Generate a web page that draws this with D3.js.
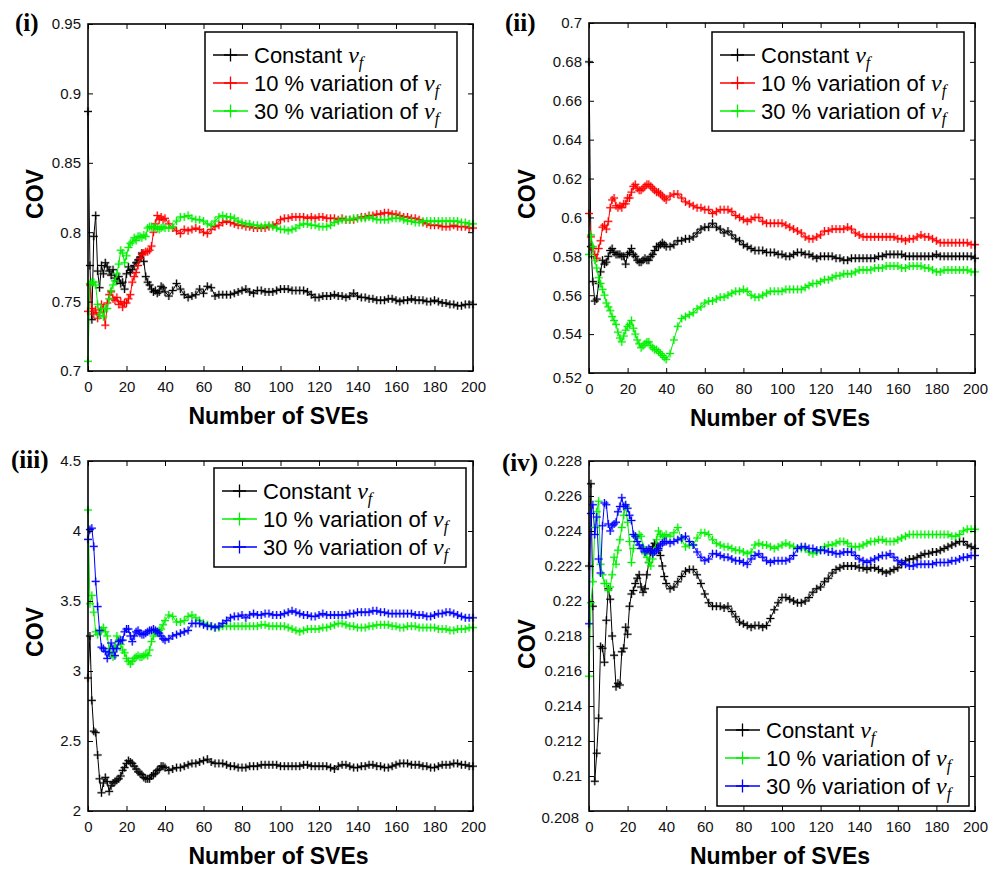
<!DOCTYPE html>
<html>
<head>
<meta charset="utf-8">
<script src="https://cdn.jsdelivr.net/npm/d3@7"></script>
<style>
  body { margin: 0; background: #fff; }
  svg { display: block; }
  text { white-space: pre; }
</style>
</head>
<body>
<svg id="fig" width="1008" height="870"></svg>
<script>
// Number of SVEs at which the running COV is sampled
const sves = [0,1,2,3,4,5,6,7,8,9,
  10,11,12,13,14,15,16,17,18,19,
  20,21,22,23,24,25,26,27,28,29,
  30,31,32,33,34,35,36,37,38,39,40,
  42,44,46,48,50,52,54,56,58,60,
  62,64,66,68,70,72,74,76,78,80,
  82,84,86,88,90,92,94,96,98,100,
  102,104,106,108,110,112,114,116,118,120,
  122,124,126,128,130,132,134,136,138,140,
  142,144,146,148,150,152,154,156,158,160,
  162,164,166,168,170,172,174,176,178,180,
  182,184,186,188,190,192,194,196,198,200];

// ---- Panel (i) ----
const covI_const = [0.887,0.776,0.737,0.797,0.812,0.772,0.760,0.776,0.770,0.778,
  0.775,0.772,0.769,0.773,0.767,0.765,0.768,0.763,0.764,0.759,
  0.770,0.775,0.771,0.773,0.776,0.778,0.780,0.782,0.785,0.779,
  0.768,0.764,0.762,0.759,0.757,0.758,0.756,0.757,0.761,0.760,0.757,
  0.754,0.758,0.763,0.759,0.755,0.753,0.754,0.755,0.759,0.756,
  0.761,0.760,0.754,0.755,0.755,0.755,0.755,0.756,0.757,0.758,
  0.759,0.757,0.756,0.758,0.758,0.757,0.757,0.757,0.758,0.759,
  0.759,0.759,0.758,0.758,0.758,0.758,0.757,0.755,0.753,0.753,
  0.754,0.754,0.754,0.755,0.754,0.754,0.753,0.754,0.756,0.754,
  0.753,0.753,0.752,0.752,0.751,0.751,0.751,0.752,0.752,0.751,
  0.750,0.751,0.751,0.752,0.751,0.751,0.751,0.750,0.750,0.751,
  0.750,0.749,0.749,0.748,0.748,0.747,0.747,0.748,0.748,0.748];
const covI_var10 = [0.743,0.762,0.745,0.741,0.744,0.738,0.742,0.748,0.745,0.733,
  0.749,0.755,0.757,0.752,0.751,0.753,0.748,0.750,0.746,0.749,
  0.749,0.752,0.755,0.764,0.768,0.771,0.776,0.781,0.784,0.785,
  0.786,0.786,0.787,0.790,0.800,0.806,0.812,0.809,0.811,0.809,0.810,
  0.806,0.803,0.801,0.799,0.802,0.801,0.802,0.803,0.802,0.800,
  0.799,0.802,0.804,0.805,0.807,0.808,0.807,0.806,0.805,0.805,
  0.804,0.804,0.803,0.803,0.803,0.803,0.804,0.805,0.806,0.809,
  0.810,0.810,0.811,0.811,0.811,0.811,0.810,0.811,0.810,0.811,
  0.811,0.810,0.810,0.810,0.809,0.810,0.809,0.809,0.809,0.810,
  0.811,0.811,0.812,0.812,0.813,0.813,0.814,0.814,0.813,0.813,
  0.812,0.811,0.811,0.810,0.810,0.809,0.807,0.806,0.805,0.805,
  0.805,0.804,0.804,0.804,0.805,0.804,0.804,0.804,0.803,0.803];
const covI_var30 = [0.707,0.763,0.764,0.764,0.762,0.748,0.740,0.745,0.739,0.745,
  0.745,0.752,0.758,0.762,0.765,0.770,0.777,0.787,0.785,0.778,
  0.783,0.789,0.792,0.793,0.796,0.794,0.797,0.797,0.796,0.798,
  0.797,0.803,0.804,0.804,0.803,0.804,0.803,0.802,0.803,0.804,0.803,
  0.803,0.804,0.808,0.811,0.811,0.812,0.810,0.809,0.809,0.808,
  0.806,0.805,0.808,0.811,0.812,0.811,0.811,0.810,0.808,0.807,
  0.806,0.806,0.805,0.805,0.804,0.805,0.805,0.804,0.803,0.802,
  0.802,0.801,0.802,0.803,0.805,0.806,0.806,0.805,0.805,0.804,
  0.804,0.804,0.805,0.807,0.808,0.809,0.809,0.809,0.810,0.810,
  0.810,0.810,0.811,0.810,0.809,0.809,0.809,0.809,0.810,0.810,
  0.810,0.809,0.808,0.808,0.807,0.807,0.808,0.808,0.808,0.808,
  0.808,0.808,0.808,0.808,0.808,0.808,0.807,0.807,0.806,0.806];

// ---- Panel (ii) ----
const covII_const = [0.680,0.585,0.567,0.557,0.558,0.566,0.572,0.578,0.576,0.577,
  0.580,0.583,0.584,0.582,0.581,0.581,0.581,0.580,0.580,0.576,
  0.581,0.582,0.584,0.581,0.580,0.578,0.577,0.577,0.578,0.579,
  0.578,0.578,0.580,0.581,0.583,0.585,0.585,0.586,0.587,0.586,0.585,
  0.585,0.586,0.588,0.588,0.589,0.589,0.590,0.592,0.594,0.595,
  0.595,0.597,0.595,0.594,0.592,0.593,0.591,0.589,0.588,0.586,
  0.585,0.584,0.583,0.583,0.583,0.582,0.582,0.582,0.581,0.581,
  0.580,0.580,0.581,0.582,0.582,0.581,0.581,0.580,0.579,0.580,
  0.580,0.580,0.580,0.579,0.579,0.578,0.578,0.579,0.579,0.579,
  0.579,0.579,0.579,0.579,0.580,0.580,0.581,0.581,0.581,0.581,
  0.581,0.580,0.580,0.580,0.580,0.580,0.580,0.580,0.580,0.581,
  0.580,0.580,0.580,0.580,0.580,0.580,0.580,0.580,0.580,0.579];
const covII_var10 = [0.602,0.590,0.584,0.581,0.579,0.584,0.588,0.595,0.596,0.594,
  0.598,0.605,0.609,0.610,0.606,0.605,0.606,0.605,0.607,0.607,
  0.610,0.610,0.613,0.616,0.617,0.615,0.614,0.614,0.615,0.616,
  0.617,0.617,0.616,0.615,0.614,0.613,0.613,0.612,0.611,0.610,0.609,
  0.611,0.612,0.612,0.610,0.608,0.607,0.606,0.605,0.605,0.604,
  0.604,0.602,0.603,0.604,0.604,0.604,0.603,0.601,0.600,0.599,
  0.598,0.599,0.600,0.600,0.598,0.597,0.597,0.597,0.597,0.597,
  0.596,0.595,0.594,0.593,0.592,0.590,0.589,0.589,0.590,0.591,
  0.593,0.593,0.594,0.594,0.594,0.594,0.595,0.594,0.592,0.591,
  0.590,0.590,0.590,0.590,0.590,0.590,0.590,0.590,0.590,0.589,
  0.589,0.588,0.589,0.589,0.590,0.591,0.590,0.590,0.589,0.588,
  0.587,0.587,0.587,0.587,0.587,0.587,0.587,0.587,0.586,0.586];
const covII_var30 = [0.581,0.591,0.585,0.578,0.574,0.569,0.566,0.563,0.560,0.556,
  0.554,0.552,0.549,0.547,0.545,0.541,0.538,0.536,0.539,0.542,
  0.544,0.545,0.547,0.543,0.540,0.537,0.535,0.533,0.534,0.535,
  0.536,0.536,0.534,0.533,0.532,0.532,0.531,0.530,0.529,0.528,0.527,
  0.530,0.537,0.544,0.548,0.549,0.550,0.551,0.553,0.554,0.556,
  0.557,0.557,0.558,0.559,0.559,0.560,0.561,0.562,0.562,0.563,
  0.562,0.560,0.559,0.559,0.560,0.561,0.562,0.562,0.562,0.562,
  0.563,0.563,0.563,0.563,0.563,0.564,0.565,0.566,0.566,0.567,
  0.568,0.568,0.569,0.570,0.570,0.571,0.571,0.571,0.572,0.573,
  0.573,0.573,0.573,0.574,0.574,0.574,0.575,0.575,0.575,0.575,
  0.574,0.574,0.575,0.575,0.575,0.575,0.574,0.574,0.573,0.572,
  0.572,0.573,0.573,0.573,0.573,0.573,0.573,0.573,0.572,0.572];

// ---- Panel (iii) ----
const covIII_const = [2.95,3.25,2.79,2.57,2.56,2.40,2.23,2.13,2.20,2.24,
  2.21,2.14,2.18,2.20,2.21,2.22,2.23,2.25,2.29,2.31,
  2.34,2.36,2.35,2.34,2.32,2.30,2.28,2.27,2.26,2.24,
  2.23,2.23,2.23,2.25,2.26,2.27,2.29,2.30,2.32,2.32,2.31,
  2.29,2.30,2.31,2.31,2.32,2.33,2.34,2.34,2.35,2.36,
  2.37,2.35,2.34,2.34,2.34,2.33,2.32,2.32,2.31,2.31,
  2.31,2.32,2.32,2.32,2.33,2.33,2.33,2.33,2.33,2.32,
  2.32,2.32,2.32,2.32,2.32,2.33,2.33,2.32,2.32,2.32,
  2.32,2.32,2.31,2.30,2.32,2.33,2.33,2.32,2.31,2.31,
  2.32,2.32,2.33,2.33,2.32,2.32,2.31,2.31,2.32,2.33,
  2.34,2.34,2.34,2.33,2.33,2.33,2.32,2.32,2.31,2.31,
  2.32,2.33,2.33,2.33,2.34,2.34,2.33,2.33,2.32,2.32];
const covIII_var10 = [4.15,3.48,3.54,3.42,3.28,3.26,3.28,3.29,3.31,3.28,
  3.25,3.16,3.12,3.10,3.17,3.25,3.22,3.19,3.15,3.13,
  3.09,3.07,3.05,3.07,3.09,3.10,3.11,3.10,3.10,3.11,
  3.12,3.11,3.15,3.21,3.25,3.27,3.28,3.29,3.30,3.33,3.36,
  3.40,3.39,3.35,3.35,3.36,3.39,3.40,3.38,3.36,3.34,
  3.33,3.32,3.31,3.31,3.32,3.32,3.32,3.32,3.32,3.32,
  3.32,3.32,3.32,3.32,3.33,3.33,3.32,3.32,3.32,3.32,
  3.32,3.31,3.30,3.29,3.28,3.29,3.30,3.30,3.30,3.30,
  3.31,3.31,3.32,3.33,3.34,3.34,3.33,3.32,3.32,3.31,
  3.31,3.31,3.32,3.32,3.33,3.33,3.33,3.33,3.32,3.32,
  3.31,3.31,3.32,3.32,3.32,3.31,3.31,3.31,3.31,3.31,
  3.30,3.30,3.30,3.29,3.29,3.30,3.30,3.30,3.31,3.31];
const covIII_var30 = [3.94,4.01,4.02,3.89,3.64,3.46,3.29,3.17,3.16,3.14,
  3.09,3.13,3.20,3.16,3.11,3.16,3.21,3.22,3.22,3.28,
  3.30,3.30,3.25,3.21,3.25,3.28,3.29,3.27,3.26,3.26,
  3.27,3.28,3.29,3.29,3.30,3.29,3.28,3.27,3.25,3.23,3.22,
  3.23,3.25,3.26,3.27,3.28,3.29,3.34,3.34,3.34,3.33,
  3.32,3.32,3.31,3.32,3.34,3.36,3.38,3.39,3.39,3.40,
  3.38,3.40,3.41,3.40,3.40,3.41,3.41,3.40,3.40,3.40,
  3.41,3.42,3.43,3.42,3.41,3.40,3.40,3.39,3.39,3.40,
  3.41,3.40,3.40,3.40,3.40,3.40,3.40,3.41,3.41,3.42,
  3.42,3.42,3.42,3.43,3.43,3.42,3.42,3.41,3.41,3.41,
  3.41,3.41,3.41,3.41,3.40,3.40,3.40,3.39,3.39,3.40,
  3.41,3.41,3.42,3.42,3.41,3.40,3.39,3.38,3.38,3.38];

// ---- Panel (iv) ----
const covIV_const = [0.2220,0.2267,0.2197,0.2097,0.2113,0.2133,0.2174,0.2173,0.2165,0.2189,
  0.2207,0.2201,0.2180,0.2169,0.2151,0.2153,0.2152,0.2171,0.2173,0.2185,
  0.2181,0.2197,0.2204,0.2206,0.2210,0.2213,0.2215,0.2208,0.2205,0.2207,
  0.2215,0.2222,0.2228,0.2231,0.2233,0.2232,0.2229,0.2226,0.2220,0.2214,0.2210,
  0.2207,0.2208,0.2211,0.2214,0.2217,0.2218,0.2218,0.2215,0.2210,0.2204,
  0.2199,0.2197,0.2197,0.2197,0.2196,0.2197,0.2194,0.2191,0.2188,0.2187,
  0.2186,0.2185,0.2186,0.2186,0.2185,0.2186,0.2190,0.2195,0.2199,0.2202,
  0.2202,0.2201,0.2200,0.2199,0.2199,0.2200,0.2202,0.2205,0.2207,0.2208,
  0.2211,0.2213,0.2216,0.2218,0.2219,0.2220,0.2220,0.2220,0.2220,0.2219,
  0.2219,0.2218,0.2219,0.2219,0.2218,0.2217,0.2216,0.2217,0.2218,0.2219,
  0.2221,0.2223,0.2224,0.2224,0.2225,0.2226,0.2227,0.2227,0.2228,0.2228,
  0.2229,0.2230,0.2231,0.2232,0.2233,0.2234,0.2234,0.2232,0.2231,0.2230];
const covIV_var10 = [0.2157,0.2199,0.2211,0.2242,0.2251,0.2257,0.2221,0.2215,0.2210,0.2210,
  0.2206,0.2208,0.2215,0.2225,0.2221,0.2229,0.2235,0.2242,0.2249,0.2254,
  0.2245,0.2234,0.2222,0.2230,0.2237,0.2236,0.2238,0.2237,0.2231,0.2227,
  0.2225,0.2222,0.2220,0.2224,0.2229,0.2235,0.2240,0.2238,0.2237,0.2237,0.2238,
  0.2237,0.2239,0.2242,0.2235,0.2231,0.2232,0.2232,0.2236,0.2239,0.2239,
  0.2238,0.2235,0.2233,0.2232,0.2231,0.2231,0.2230,0.2229,0.2229,0.2228,
  0.2227,0.2228,0.2232,0.2233,0.2232,0.2232,0.2231,0.2230,0.2231,0.2232,
  0.2233,0.2232,0.2231,0.2230,0.2230,0.2230,0.2228,0.2227,0.2228,0.2229,
  0.2231,0.2232,0.2232,0.2233,0.2234,0.2234,0.2233,0.2231,0.2231,0.2231,
  0.2232,0.2233,0.2234,0.2234,0.2235,0.2235,0.2234,0.2234,0.2234,0.2235,
  0.2236,0.2237,0.2238,0.2238,0.2238,0.2238,0.2238,0.2238,0.2238,0.2238,
  0.2238,0.2238,0.2238,0.2237,0.2237,0.2238,0.2240,0.2241,0.2241,0.2241];
const covIV_var30 = [0.2187,0.2250,0.2255,0.2238,0.2248,0.2224,0.2216,0.2243,0.2256,0.2255,
  0.2244,0.2240,0.2243,0.2244,0.2245,0.2251,0.2254,0.2259,0.2254,0.2255,
  0.2253,0.2249,0.2246,0.2238,0.2237,0.2234,0.2232,0.2230,0.2230,0.2228,
  0.2229,0.2230,0.2229,0.2227,0.2228,0.2229,0.2230,0.2232,0.2233,0.2234,0.2234,
  0.2233,0.2234,0.2235,0.2236,0.2237,0.2234,0.2232,0.2228,0.2225,0.2223,
  0.2224,0.2227,0.2227,0.2226,0.2225,0.2225,0.2224,0.2223,0.2223,0.2222,
  0.2221,0.2224,0.2226,0.2227,0.2225,0.2223,0.2222,0.2223,0.2223,0.2223,
  0.2223,0.2224,0.2226,0.2230,0.2231,0.2231,0.2230,0.2230,0.2229,0.2229,
  0.2229,0.2228,0.2228,0.2227,0.2227,0.2228,0.2228,0.2228,0.2226,0.2224,
  0.2223,0.2222,0.2223,0.2224,0.2225,0.2226,0.2226,0.2227,0.2225,0.2223,
  0.2222,0.2221,0.2220,0.2220,0.2221,0.2221,0.2221,0.2221,0.2221,0.2222,
  0.2222,0.2222,0.2222,0.2223,0.2223,0.2224,0.2225,0.2225,0.2226,0.2226];

// Ticks and labels
const xTicks = [0,20,40,60,80,100,120,140,160,180,200];
const xTickLabels = ["0","20","40","60","80","100","120","140","160","180","200"];
const yTicksI = [0.7,0.75,0.8,0.85,0.9,0.95];
const yTickLabelsI = ["0.7","0.75","0.8","0.85","0.9","0.95"];
const yTicksII = [0.52,0.54,0.56,0.58,0.6,0.62,0.64,0.66,0.68,0.7];
const yTickLabelsII = ["0.52","0.54","0.56","0.58","0.6","0.62","0.64","0.66","0.68","0.7"];
const yTicksIII = [2,2.5,3,3.5,4,4.5];
const yTickLabelsIII = ["2","2.5","3","3.5","4","4.5"];
const yTicksIV = [0.208,0.21,0.212,0.214,0.216,0.218,0.22,0.222,0.224,0.226,0.228];
const yTickLabelsIV = ["0.208","0.21","0.212","0.214","0.216","0.218","0.22","0.222","0.224","0.226","0.228"];

const seriesNames = ["Constant ", "10 % variation of ", "30 % variation of "];
const xTitle = "Number of SVEs";
const yTitle = "COV";

// Styling
const SANS = "'Liberation Sans', Arial, Helvetica, sans-serif";
const SERIF = "'Liberation Serif', 'Times New Roman', serif";
const BLACK = "#000000", RED = "#ff0000", GREEN = "#00f000", BLUE = "#0000ff";
const PLUS = "M-4,0H4M0,-4V4";
const PLUS_LEGEND = "M-6.5,0H6.5M0,-6.5V6.5";

const panels = [
  { tag: "(i)", tagX: 15, tagY: 31, left: 88, top: 24, width: 385, height: 347,
    yDomain: [0.7, 0.95], yTicks: yTicksI, yLabels: yTickLabelsI, lowLabelShift: [0, 0],
    covX: -53, covY: 170, legendX: 117, legendY: 8,
    series: [covI_const, covI_var10, covI_var30], colors: [BLACK, RED, GREEN] },
  { tag: "(ii)", tagX: 505, tagY: 31, left: 589, top: 23, width: 386, height: 350,
    yDomain: [0.52, 0.7], yTicks: yTicksII, yLabels: yTickLabelsII, lowLabelShift: [0, 5],
    covX: -62, covY: 171, legendX: 123, legendY: 9,
    series: [covII_const, covII_var10, covII_var30], colors: [BLACK, RED, GREEN] },
  { tag: "(iii)", tagX: 11, tagY: 468, left: 88, top: 461, width: 385, height: 350,
    yDomain: [2, 4.5], yTicks: yTicksIII, yLabels: yTickLabelsIII, lowLabelShift: [0, 0],
    covX: -53, covY: 171, legendX: 126, legendY: 7,
    series: [covIII_const, covIII_var10, covIII_var30], colors: [BLACK, GREEN, BLUE] },
  { tag: "(iv)", tagX: 502, tagY: 471, left: 589, top: 461, width: 386, height: 350,
    yDomain: [0.208, 0.228], yTicks: yTicksIV, yLabels: yTickLabelsIV, lowLabelShift: [-3, 7],
    covX: -62, covY: 183, legendX: 128, legendY: 246,
    series: [covIV_const, covIV_var10, covIV_var30], colors: [BLACK, GREEN, BLUE] }
];

const svg = d3.select("#fig");

function styleAxis(a) {
  a.select(".domain").remove();
  a.selectAll(".tick line").attr("stroke", "#000").attr("stroke-width", 1);
  a.selectAll("text").attr("font-family", SANS).attr("font-size", 15).attr("fill", "#111");
  return a;
}

function drawPanel(p) {
  const g = svg.append("g").attr("transform", `translate(${p.left},${p.top})`);
  const x = d3.scaleLinear().domain([0, 200]).range([0, p.width]);
  const y = d3.scaleLinear().domain(p.yDomain).range([p.height, 0]);

  const line = d3.line().x(d => x(d.sve)).y(d => y(d.cov));

  // Series: thin line plus a "+" marker at every sample (soft halo under the markers)
  p.series.forEach((vals, k) => {
    const pts = sves.map((v, i) => ({ sve: v, cov: vals[i] }));
    const sg = g.append("g");
    sg.append("path").datum(pts)
      .attr("d", line).attr("fill", "none")
      .attr("stroke", p.colors[k]).attr("stroke-width", 1);
    sg.selectAll("path.halo").data(pts).join("path")
      .attr("class", "halo")
      .attr("d", PLUS)
      .attr("transform", d => `translate(${x(d.sve)},${y(d.cov)})`)
      .attr("fill", "none").attr("stroke", p.colors[k])
      .attr("stroke-opacity", 0.25).attr("stroke-width", 2.6);
    sg.selectAll("path.mark").data(pts).join("path")
      .attr("class", "mark")
      .attr("d", PLUS)
      .attr("transform", d => `translate(${x(d.sve)},${y(d.cov)})`)
      .attr("fill", "none").attr("stroke", p.colors[k]).attr("stroke-width", 1);
  });

  // Axes, ticks pointing inward on all four sides
  styleAxis(g.append("g").attr("transform", `translate(0,${p.height})`)
    .call(d3.axisBottom(x).tickValues(xTicks).tickFormat((d, i) => xTickLabels[i])
      .tickSize(-5).tickPadding(10)));
  styleAxis(g.append("g")
    .call(d3.axisTop(x).tickValues(xTicks).tickFormat("").tickSize(-5)));
  const left = styleAxis(g.append("g")
    .call(d3.axisLeft(y).tickValues(p.yTicks).tickFormat((d, i) => p.yLabels[i])
      .tickSize(-5).tickPadding(7)));
  left.selectAll(".tick text").filter((d, i) => i === 0)
    .attr("dx", p.lowLabelShift[0]).attr("y", p.lowLabelShift[1]);
  styleAxis(g.append("g").attr("transform", `translate(${p.width},0)`)
    .call(d3.axisRight(y).tickValues(p.yTicks).tickFormat("").tickSize(-5)));

  g.append("rect")
    .attr("width", p.width).attr("height", p.height)
    .attr("fill", "none").attr("stroke", "#000").attr("stroke-width", 1.6);

  // Axis titles
  g.append("text")
    .attr("x", p.width / 2 - 2).attr("y", p.height + 53)
    .attr("text-anchor", "middle")
    .attr("font-family", SANS).attr("font-weight", "bold").attr("font-size", 23)
    .text(xTitle);
  g.append("text")
    .attr("transform", `translate(${p.covX},${p.covY}) rotate(-90)`)
    .attr("text-anchor", "middle").attr("dy", "0.36em")
    .attr("font-family", SANS).attr("font-weight", "bold").attr("font-size", 23)
    .text(yTitle);

  // Legend
  const lg = g.append("g").attr("transform", `translate(${p.legendX},${p.legendY})`);
  lg.append("rect").attr("width", 252).attr("height", 99)
    .attr("fill", "#fff").attr("stroke", "#000").attr("stroke-width", 1.5);
  seriesNames.forEach((name, k) => {
    const ry = 23 + 28 * k;
    lg.append("line").attr("x1", 8).attr("x2", 43).attr("y1", ry).attr("y2", ry)
      .attr("stroke", p.colors[k]).attr("stroke-width", 1.3);
    lg.append("path").attr("d", PLUS_LEGEND).attr("transform", `translate(25.5,${ry})`)
      .attr("fill", "none").attr("stroke", p.colors[k]).attr("stroke-width", 1.3);
    const t = lg.append("text").attr("x", 49).attr("y", ry + 8)
      .attr("font-family", SANS).attr("font-size", 22).attr("fill", "#000");
    t.append("tspan").text(name);
    t.append("tspan").attr("font-family", SERIF).attr("font-style", "italic")
      .attr("font-size", 24).text("v");
    t.append("tspan").attr("font-family", SERIF).attr("font-style", "italic")
      .attr("font-size", 16).attr("dy", 5).text("f");
  });

  // Panel tag
  svg.append("text").attr("x", p.tagX).attr("y", p.tagY)
    .attr("font-family", SERIF).attr("font-weight", "bold").attr("font-size", 25)
    .text(p.tag);
}

panels.forEach(drawPanel);
</script>
</body>
</html>
